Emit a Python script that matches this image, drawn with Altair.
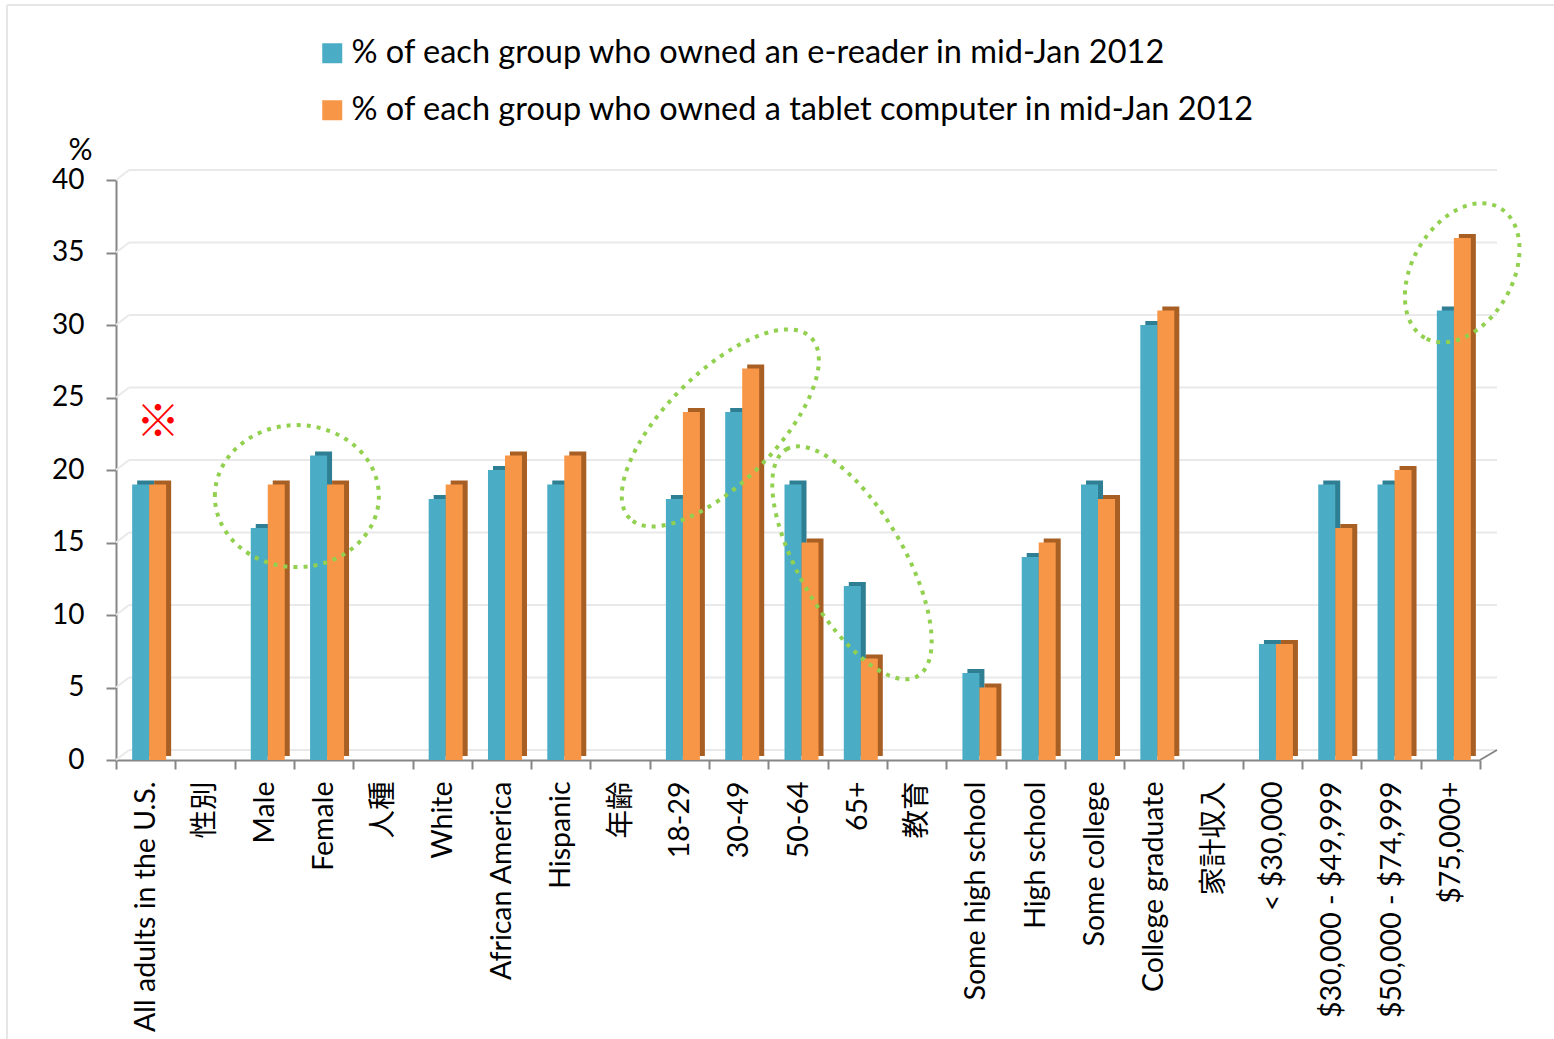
import altair as alt
import pandas as pd

categories = ["All adults in the U.S.", "性別", "Male", "Female", "人種", "White",
              "African America", "Hispanic", "年齢", "18-29", "30-49", "50-64", "65+",
              "教育", "Some high school", "High school", "Some college", "College graduate",
              "家計収入", "< $30,000", "$30,000 - $49,999", "$50,000 - $74,999", "$75,000+"]
ereader = [19, None, 16, 21, None, 18, 20, 19, None, 18, 24, 19, 12, None, 6, 14, 19, 30,
           None, 8, 19, 19, 31]
tablet = [19, None, 19, 19, None, 19, 21, 21, None, 24, 27, 15, 7, None, 5, 15, 18, 31,
          None, 8, 16, 20, 36]
series = ["% of each group who owned an e-reader in mid-Jan 2012",
          "% of each group who owned a tablet computer in mid-Jan 2012"]
y_ticks = [0, 5, 10, 15, 20, 25, 30, 35, 40]

# annotation ellipses (category-index units, value units)
ell_x = [3.05, 10.19, 12.41, 22.70]
ell_y = [18.2, 22.9, 13.6, 33.6]
ell_a = [82, 128, 131, 75]
ell_ratio = [0.866, 0.43, 0.40, 0.667]
ell_angle = [0, 315, 60, 300]
mark_x = [0.71]
mark_y = [23.2]

FONT = "Lato, 'Noto Sans CJK JP', sans-serif"
W, H = 1364, 580
BLUE, ORANGE = "#4BACC6", "#F79646"
BLUE_D, ORANGE_D = "#2E7F94", "#A85F24"

rows = []
for c, e, t in zip(categories, ereader, tablet):
    if e is not None:
        rows.append({"cat": c, "series": series[0], "v": e})
    if t is not None:
        rows.append({"cat": c, "series": series[1], "v": t})
df = pd.DataFrame(rows)

grid_df = pd.DataFrame({"v": y_ticks})
ell_df = pd.DataFrame({
    "v": ell_y, "x": ell_x,
    "size": [(2 * a) ** 2 for a in ell_a],
    "shape": [f"M -1 0 A 1 {r} 0 1 1 1 0 A 1 {r} 0 1 1 -1 0 Z" for r in ell_ratio],
    "angle": ell_angle,
})
mark_df = pd.DataFrame({"x": mark_x, "v": mark_y, "t": ["※"]})

yscale = alt.Scale(domain=[0, 40], nice=False, zero=True)
xscale = alt.Scale(domain=categories, paddingInner=0, paddingOuter=0)

yaxis = alt.Axis(values=y_ticks, grid=False, labelFontSize=28, labelFont=FONT,
                 labelColor="#000", labelPadding=22, tickSize=10, tickColor="#868686",
                 tickWidth=2, domainColor="#868686", domainWidth=2,
                 title="%", titleAngle=0, titleFont=FONT, titleFontSize=30,
                 titleFontWeight="normal", titleColor="#000", titleX=-36, titleY=-30,
                 titleAlign="center", titleBaseline="middle")
yenc = alt.Y("v:Q", scale=yscale, axis=yaxis)

frame_df = pd.DataFrame({"k": [0]})
frame_left = alt.Chart(frame_df).mark_rule(color="#E6E6E6", strokeWidth=2).encode(
    x=alt.value(-109), y=alt.value(-175), y2=alt.value(H + 279))
frame_top = alt.Chart(frame_df).mark_rule(color="#E6E6E6", strokeWidth=2).encode(
    x=alt.value(-109), x2=alt.value(W + 74), y=alt.value(-175))

grid = alt.Chart(grid_df).mark_rule(color="#E9E9E9", strokeWidth=2, yOffset=-10).encode(
    x=alt.value(13), x2=alt.value(W + 17), y=yenc,
)
grid_diag = alt.Chart(grid_df).mark_rule(color="#E9E9E9", strokeWidth=2, y2Offset=-10).encode(
    x=alt.value(0), x2=alt.value(13), y=yenc, y2="v:Q",
)
floor_diag = alt.Chart(pd.DataFrame({"v": [0]})).mark_rule(color="#868686", strokeWidth=2, y2Offset=-10).encode(
    x=alt.value(W), x2=alt.value(W + 17), y=yenc, y2="v:Q",
)

xenc = alt.X("cat:N", scale=xscale, sort=categories, title=None,
             axis=alt.Axis(labelAngle=270, labelFontSize=28.5, labelFont=FONT, labelColor="#000",
                           labelPadding=12, tickBand="extent", tickSize=9, tickColor="#868686",
                           tickWidth=2, domainColor="#868686", domainWidth=2, grid=False,
                           labelLimit=400))

SHIFT = 3.5

def side(sname, off, col):
    return alt.Chart(df).transform_filter(alt.datum.series == sname).mark_bar(
        width=17, xOffset=off + SHIFT + 5, yOffset=-4, y2Offset=-4, color=col).encode(x=xenc, y=yenc)

color = alt.Color("series:N", scale=alt.Scale(domain=series, range=[BLUE, ORANGE]),
                  legend=alt.Legend(title=None, orient="none", legendX=200, legendY=-143,
                                    direction="vertical", symbolType="square", symbolSize=400,
                                    symbolStrokeWidth=0, labelFontSize=32.5, labelFont=FONT,
                                    labelColor="#000", labelOffset=3, rowPadding=24,
                                    labelLimit=1200))

def main(sname, off):
    return alt.Chart(df).transform_filter(alt.datum.series == sname).mark_bar(
        width=17, xOffset=off + SHIFT).encode(x=xenc, y=yenc, color=color)

bars = alt.layer(
    frame_left, frame_top,
    grid, grid_diag, floor_diag,
    side(series[0], -8.5, BLUE_D), side(series[1], 8.5, ORANGE_D),
    main(series[0], -8.5), main(series[1], 8.5),
)

ax = alt.Scale(domain=[0, 23], nice=False, zero=False)
ellipses = alt.Chart(ell_df).mark_point(filled=False, stroke="#92D050", strokeWidth=4,
                                        strokeDash=[4, 6], opacity=1).encode(
    x=alt.X("x:Q", scale=ax, axis=None),
    y=yenc,
    shape=alt.Shape("shape:N", scale=None),
    size=alt.Size("size:Q", scale=None),
    angle=alt.Angle("angle:Q", scale=None),
)
refmark = alt.Chart(mark_df).mark_text(color="#FF0000", fontSize=44, font="'Noto Sans CJK JP'").encode(
    x=alt.X("x:Q", scale=ax, axis=None),
    y=yenc,
    text="t:N",
)

chart = alt.layer(bars, ellipses, refmark).resolve_scale(x="independent").properties(
    width=W, height=H,
    background="white",
    autosize=alt.AutoSizeParams(type="none"),
    padding={"left": 116, "top": 180, "right": 74, "bottom": 279},
).configure_view(stroke=None)

chart.save("out.html", embed_options={"renderer": "svg", "actions": False})
